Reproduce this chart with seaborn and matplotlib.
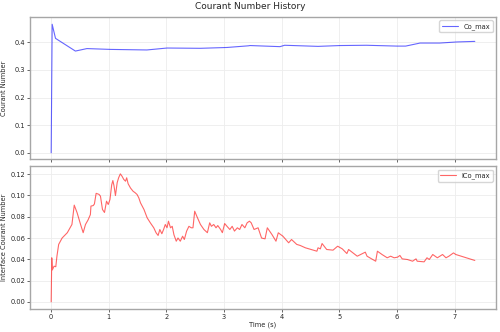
import matplotlib
matplotlib.use("Agg")
import matplotlib.pyplot as plt
import seaborn as sns
import pandas as pd

# Courant number (Co_max)
co_time = [0.0, 0.017, 0.075, 0.42, 0.62, 1.03, 1.66, 2.01, 2.59, 3.05, 3.42, 3.45, 3.97,
           4.05, 4.63, 5.01, 5.47, 6.0, 6.15, 6.4, 6.74, 7.04, 7.35]
co_max = [0.0, 0.465, 0.414, 0.368, 0.377, 0.374, 0.372, 0.379, 0.378, 0.381, 0.387, 0.388, 0.384,
          0.389, 0.385, 0.388, 0.389, 0.386, 0.386, 0.397, 0.397, 0.401, 0.403]

# Interface Courant number (ICo_max)
ico_time = [0.0, 0.01, 0.02, 0.05, 0.08, 0.10, 0.13, 0.19, 0.28, 0.36, 0.40, 0.45, 0.51, 0.555,
            0.595, 0.64, 0.68, 0.69, 0.73, 0.75, 0.78, 0.83, 0.855, 0.89, 0.925, 0.96, 0.99,
            1.02, 1.05, 1.07, 1.09, 1.115, 1.145, 1.17, 1.20, 1.23, 1.26, 1.29, 1.31, 1.335,
            1.376, 1.42, 1.46, 1.49, 1.52, 1.55, 1.61, 1.665, 1.72, 1.78, 1.82, 1.855, 1.885,
            1.92, 1.95, 1.98, 2.01, 2.035, 2.07, 2.10, 2.13, 2.17, 2.20, 2.24, 2.28, 2.31,
            2.35, 2.39, 2.43, 2.46, 2.49, 2.53, 2.59, 2.65, 2.71, 2.75, 2.78, 2.82, 2.86,
            2.89, 2.94, 2.97, 3.01, 3.05, 3.10, 3.14, 3.18, 3.23, 3.27, 3.31, 3.36, 3.40,
            3.44, 3.47, 3.52, 3.59, 3.65, 3.71, 3.75, 3.83, 3.90, 3.94, 4.02, 4.12, 4.17,
            4.26, 4.32, 4.41, 4.55, 4.61, 4.63, 4.67, 4.70, 4.78, 4.89, 4.97, 5.05, 5.13,
            5.16, 5.31, 5.45, 5.48, 5.63, 5.66, 5.74, 5.83, 5.89, 5.95, 6.01, 6.05, 6.09,
            6.18, 6.27, 6.33, 6.35, 6.47, 6.52, 6.56, 6.62, 6.70, 6.79, 6.85, 6.90, 6.94,
            6.98, 7.02, 7.35]
ico_max = [0.0, 0.0414, 0.030, 0.0335, 0.033, 0.043, 0.054, 0.060, 0.065, 0.0727, 0.0909,
           0.0837, 0.0727, 0.065, 0.0727, 0.077, 0.082, 0.090, 0.0905, 0.092, 0.102, 0.101,
           0.0993, 0.0868, 0.084, 0.0946, 0.0915, 0.0962, 0.110, 0.114, 0.109, 0.0999, 0.112,
           0.1166, 0.1203, 0.118, 0.115, 0.1134, 0.1166, 0.111, 0.107, 0.104, 0.1024, 0.1009,
           0.0978, 0.093, 0.0868, 0.079, 0.0743, 0.0696, 0.0649, 0.0624, 0.068, 0.064, 0.068,
           0.0727, 0.0696, 0.0758, 0.0696, 0.071, 0.063, 0.057, 0.060, 0.057, 0.0617, 0.0586,
           0.0665, 0.071, 0.0696, 0.0696, 0.0852, 0.080, 0.0727, 0.068, 0.065, 0.0743, 0.071,
           0.0727, 0.0696, 0.0717, 0.068, 0.065, 0.0736, 0.071, 0.068, 0.071, 0.0665, 0.0696,
           0.068, 0.0727, 0.0696, 0.0743, 0.0758, 0.0743, 0.068, 0.0696, 0.060, 0.0592,
           0.0696, 0.0633, 0.057, 0.0649, 0.0617, 0.0555, 0.0586, 0.054, 0.053, 0.0508,
           0.0486, 0.0476, 0.0508, 0.0498, 0.0548, 0.0492, 0.0486, 0.0523, 0.0498, 0.0454,
           0.0492, 0.0429, 0.0467, 0.0429, 0.0382, 0.0476, 0.0445, 0.0414, 0.0429, 0.0414,
           0.042, 0.0436, 0.0404, 0.0398, 0.0382, 0.0404, 0.0382, 0.0376, 0.0414, 0.0398,
           0.0445, 0.0414, 0.0445, 0.0414, 0.0429, 0.0445, 0.046, 0.0445, 0.0389]

sns.set_style("whitegrid", {"axes.edgecolor": "0.65", "grid.color": "0.93",
                            "xtick.bottom": True, "ytick.left": True})
plt.rcParams["font.family"] = ["DejaVu Sans"]

df_co = pd.DataFrame({"Time (s)": co_time, "Courant Number": co_max})
df_ico = pd.DataFrame({"Time (s)": ico_time, "Interface Courant Number": ico_max})

fig, (ax1, ax2) = plt.subplots(2, 1, figsize=(5.0, 3.32), dpi=100, sharex=True)
fig.subplots_adjust(left=0.06, right=0.992, top=0.949, bottom=0.07, hspace=0.05)

sns.lineplot(data=df_co, x="Time (s)", y="Courant Number", ax=ax1, color="blue",
             alpha=0.6, linewidth=0.8, label="Co_max")
sns.lineplot(data=df_ico, x="Time (s)", y="Interface Courant Number", ax=ax2, color="red",
             alpha=0.6, linewidth=0.8, label="ICo_max")

FS = 4.8
for ax in (ax1, ax2):
    for s in ax.spines.values():
        s.set_linewidth(1.0)
    ax.tick_params(labelsize=FS, length=2.0, width=0.6, color="0.3", pad=1.5)
    ax.yaxis.label.set_size(FS)
    ax.xaxis.label.set_size(FS)
    ax.grid(True, linewidth=0.6)
    ax.legend(loc="upper right", fontsize=FS, frameon=True, handlelength=2.4)
    ax.yaxis.set_label_coords(-0.049, 0.5)

ax1.set_xlabel("")
ax1.set_ylim(-0.0235, 0.4915)
ax1.set_yticks([0.0, 0.1, 0.2, 0.3, 0.4])
ax2.set_ylim(-0.0065, 0.1273)
ax2.set_yticks([0.00, 0.02, 0.04, 0.06, 0.08, 0.10, 0.12])
ax2.set_xlim(-0.3675, 7.7175)
ax2.set_xticks(range(0, 8))
ax2.xaxis.labelpad = 1.5

fig.suptitle("Courant Number History", fontsize=6.5, y=0.993)
fig.savefig("out.png", dpi=100)
